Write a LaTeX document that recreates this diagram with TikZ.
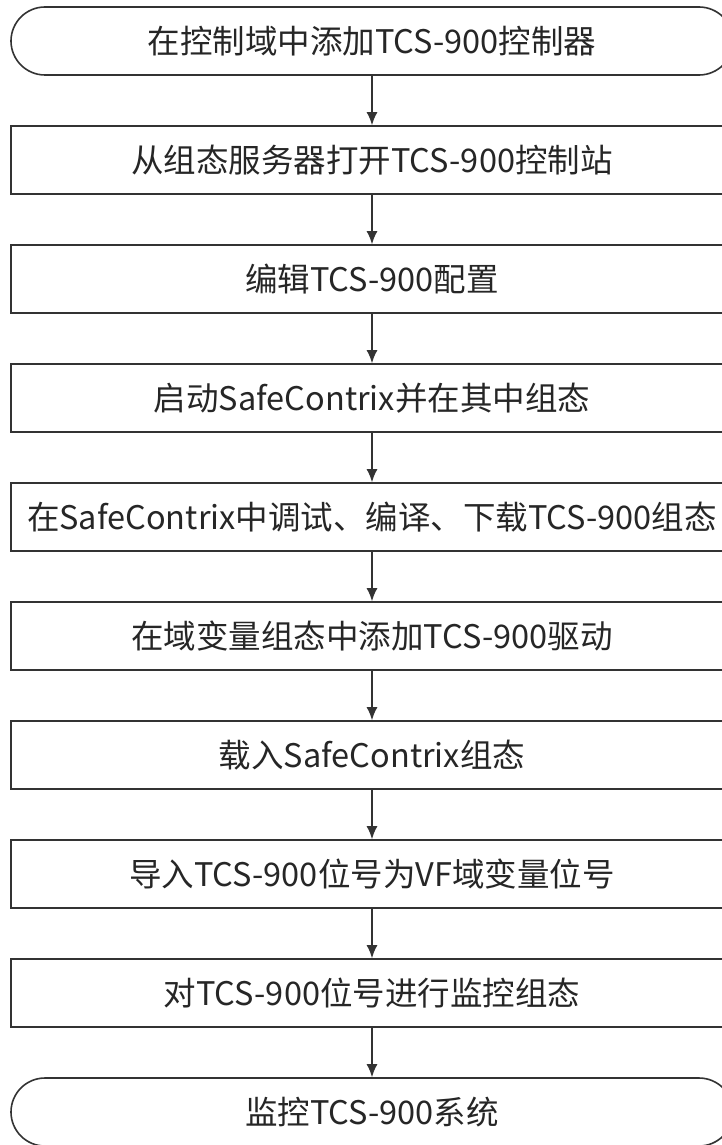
\documentclass[tikz,border=0pt]{standalone}
\usepackage{fontspec}
\setmainfont{Noto Sans CJK SC}
\usetikzlibrary{arrows.meta}
\tikzset{
  stepbox/.style={draw=black!80, line width=1.6pt, fill=white, minimum width=722pt, minimum height=68pt, inner sep=0pt, font=\fontsize{32.5}{38}\selectfont, text=black!85},
  termbox/.style={stepbox, rounded corners=34pt},
  flow/.style={draw=black!80, line width=1.6pt, -{Latex[length=13pt,width=11pt]}}
}
\begin{document}
\begin{tikzpicture}[x=1pt,y=-1pt]
\useasboundingbox (0,0) rectangle (722,1145);

% Start
\node[termbox] (s0) at (372,41) {在控制域中添加TCS-900控制器};
% Steps
\node[stepbox] (s1) at (372,160) {从组态服务器打开TCS-900控制站};
\node[stepbox] (s2) at (372,279) {编辑TCS-900配置};
\node[stepbox] (s3) at (372,398) {启动SafeContrix并在其中组态};
\node[stepbox] (s4) at (372,517) {在SafeContrix中调试、编译、下载TCS-900组态};
\node[stepbox] (s5) at (372,636) {在域变量组态中添加TCS-900驱动};
\node[stepbox] (s6) at (372,755) {载入SafeContrix组态};
\node[stepbox] (s7) at (372,874) {导入TCS-900位号为VF域变量位号};
\node[stepbox] (s8) at (372,993) {对TCS-900位号进行监控组态};
% End
\node[termbox] (s9) at (372,1112) {监控TCS-900系统};

% Arrows
\foreach \a/\b in {s0/s1,s1/s2,s2/s3,s3/s4,s4/s5,s5/s6,s6/s7,s7/s8,s8/s9}
  \draw[flow] (\a.south) -- (\b.north);

\end{tikzpicture}
\end{document}
